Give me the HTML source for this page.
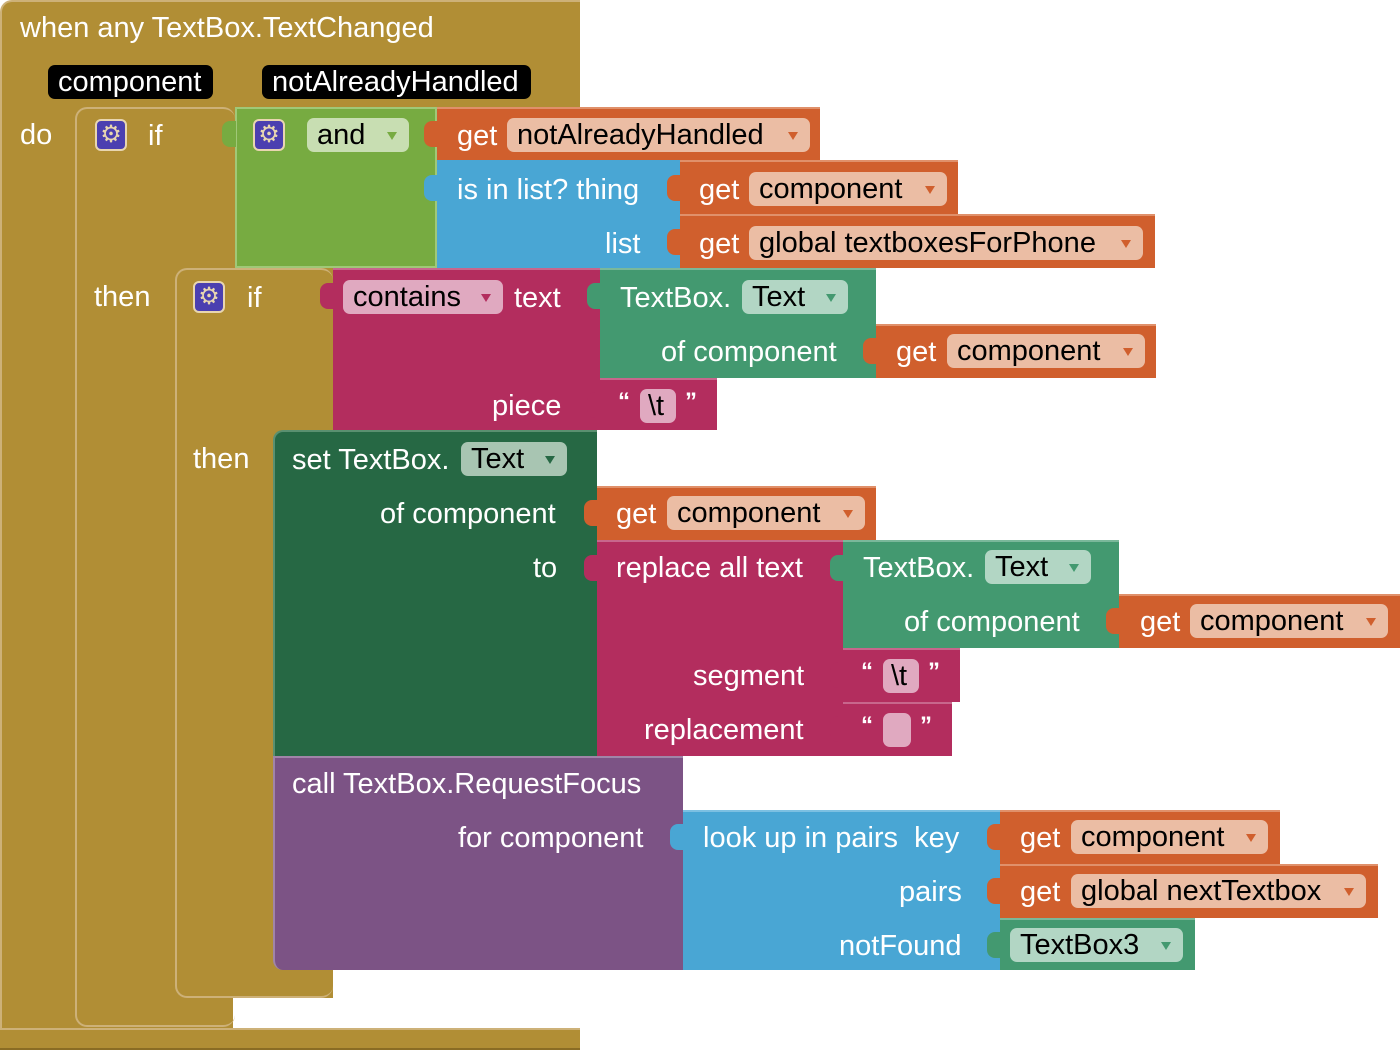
<!DOCTYPE html>
<html><head><style>
body{margin:0;width:1400px;height:1050px;background:#fff;position:relative;overflow:hidden;font-family:"Liberation Sans",sans-serif}
.b{position:absolute;box-sizing:border-box}
.t{position:absolute;color:#fff;font-size:29px;line-height:32px;white-space:nowrap}
.p{position:absolute;height:34px;border-radius:7px;color:#000;font-size:29px;line-height:34px;padding-left:10px;box-sizing:border-box;white-space:nowrap}
.p i{position:absolute;right:12px;top:14px;width:0;height:0;border-left:5px solid transparent;border-right:5px solid transparent;border-top:8px solid}
.g{position:absolute;width:32px;height:32px;background:#4b3fb0;border:2px solid #e8d6b0;border-radius:6px;box-sizing:border-box;color:#e8d6b0;font-size:24px;line-height:28px;text-align:center}
.k{position:absolute;width:14px;height:26px;border-radius:8px 0 0 8px}
.q{position:absolute;color:#fff;font-size:24px;line-height:24px;font-weight:bold}
</style></head><body>
<div class="b" style="left:0;top:0;width:580px;height:1050px;background:#b18e35;border-radius:12px 0 0 12px;border-top:2px solid #cdb178;border-left:2px solid #cdb178"></div>
<div class="b" style="left:333px;top:970px;width:247px;height:58px;background:#fff"></div>
<div class="b" style="left:233px;top:998px;width:100px;height:30px;background:#fff"></div>
<div class="b" style="left:0;top:1028px;width:580px;height:22px;background:#b18e35;border-top:2px solid #cdb178;border-bottom:2px solid #8a6c24"></div>
<div class="b" style="left:75px;top:107px;width:160px;height:920px;border:2px solid #cdb178;border-radius:12px;border-right:none"></div>
<div class="b" style="left:175px;top:268px;width:158px;height:730px;border:2px solid #cdb178;border-radius:12px;border-right:none"></div>

<div class="b" style="left:235px;top:107px;width:202px;height:161px;background:#77ab41;border:2px solid #a0c878"></div>
<div class="k" style="left:222px;top:121px;background:#77ab41"></div>
<div class="b" style="left:437px;top:107px;width:383px;height:53px;background:#d05f2d;border-top:2px solid #e0906a"></div>
<div class="k" style="left:424px;top:121px;background:#d05f2d"></div>
<div class="b" style="left:437px;top:160px;width:243px;height:108px;background:#49a6d4"></div>
<div class="k" style="left:424px;top:175px;background:#49a6d4"></div>
<div class="b" style="left:680px;top:160px;width:278px;height:54px;background:#d05f2d;border-top:2px solid #e0906a"></div>
<div class="k" style="left:667px;top:175px;background:#d05f2d"></div>
<div class="b" style="left:680px;top:214px;width:475px;height:54px;background:#d05f2d;border-top:2px solid #e0906a"></div>
<div class="k" style="left:667px;top:229px;background:#d05f2d"></div>

<div class="b" style="left:333px;top:268px;width:267px;height:162px;background:#b32d5e;border-top:2px solid #c8668c"></div>
<div class="k" style="left:320px;top:283px;background:#b32d5e"></div>
<div class="b" style="left:600px;top:268px;width:276px;height:110px;background:#439970;border-top:2px solid #7ab89a"></div>
<div class="k" style="left:587px;top:283px;background:#439970"></div>
<div class="b" style="left:876px;top:324px;width:280px;height:54px;background:#d05f2d;border-top:2px solid #e0906a"></div>
<div class="k" style="left:863px;top:338px;background:#d05f2d"></div>
<div class="b" style="left:600px;top:378px;width:117px;height:52px;background:#b32d5e;border-top:2px solid #c8668c"></div>
<div class="k" style="left:587px;top:392px;background:#b32d5e"></div>

<div class="b" style="left:273px;top:430px;width:324px;height:326px;background:#266844;border-radius:10px 0 0 0;border-top:2px solid #5a9070;border-left:2px solid #5a9070"></div>
<div class="b" style="left:597px;top:486px;width:279px;height:54px;background:#d05f2d;border-top:2px solid #e0906a"></div>
<div class="k" style="left:584px;top:500px;background:#d05f2d"></div>
<div class="b" style="left:597px;top:540px;width:246px;height:216px;background:#b32d5e;border-top:2px solid #c8668c"></div>
<div class="k" style="left:584px;top:555px;background:#b32d5e"></div>
<div class="b" style="left:843px;top:540px;width:276px;height:108px;background:#439970;border-top:2px solid #7ab89a"></div>
<div class="k" style="left:830px;top:555px;background:#439970"></div>
<div class="b" style="left:1119px;top:594px;width:281px;height:54px;background:#d05f2d;border-top:2px solid #e0906a"></div>
<div class="k" style="left:1106px;top:608px;background:#d05f2d"></div>
<div class="b" style="left:843px;top:648px;width:117px;height:54px;background:#b32d5e;border-top:2px solid #c8668c"></div>
<div class="k" style="left:830px;top:662px;background:#b32d5e"></div>
<div class="b" style="left:843px;top:702px;width:109px;height:54px;background:#b32d5e;border-top:2px solid #c8668c"></div>
<div class="k" style="left:830px;top:716px;background:#b32d5e"></div>

<div class="b" style="left:273px;top:756px;width:410px;height:214px;background:#7c5385;border-radius:0 0 0 10px;border-top:2px solid #a085a8;border-left:2px solid #a085a8"></div>
<div class="b" style="left:683px;top:810px;width:317px;height:160px;background:#49a6d4;border-top:2px solid #7cc0e2"></div>
<div class="k" style="left:670px;top:824px;background:#49a6d4"></div>
<div class="b" style="left:1000px;top:810px;width:280px;height:54px;background:#d05f2d;border-top:2px solid #e0906a"></div>
<div class="k" style="left:987px;top:824px;background:#d05f2d"></div>
<div class="b" style="left:1000px;top:864px;width:378px;height:54px;background:#d05f2d;border-top:2px solid #e0906a"></div>
<div class="k" style="left:987px;top:878px;background:#d05f2d"></div>
<div class="b" style="left:1000px;top:918px;width:195px;height:52px;background:#439970;border-top:2px solid #7ab89a"></div>
<div class="k" style="left:987px;top:932px;background:#439970"></div>

<div class="t" style="left:20px;top:12px">when any TextBox.TextChanged</div>
<div class="p" style="left:48px;top:65px;width:165px;background:#000;color:#fff">component</div>
<div class="p" style="left:262px;top:65px;width:269px;background:#000;color:#fff">notAlreadyHandled</div>
<div class="t" style="left:20px;top:119px">do</div>
<div class="g" style="left:95px;top:119px">⚙</div>
<div class="t" style="left:148px;top:120px">if</div>
<div class="g" style="left:253px;top:119px">⚙</div>
<div class="p" style="left:307px;top:118px;width:102px;background:#c8deb2">and<i style="color:#77ab41"></i></div>
<div class="t" style="left:457px;top:120px">get</div>
<div class="p" style="left:507px;top:118px;width:303px;background:#ebbda4">notAlreadyHandled<i style="color:#d05f2d"></i></div>
<div class="t" style="left:457px;top:174px">is in list? thing</div>
<div class="t" style="left:699px;top:174px">get</div>
<div class="p" style="left:749px;top:172px;width:198px;background:#ebbda4">component<i style="color:#d05f2d"></i></div>
<div class="t" style="left:605px;top:228px">list</div>
<div class="t" style="left:699px;top:228px">get</div>
<div class="p" style="left:749px;top:226px;width:394px;background:#ebbda4">global textboxesForPhone<i style="color:#d05f2d"></i></div>
<div class="t" style="left:94px;top:281px">then</div>
<div class="g" style="left:193px;top:281px">⚙</div>
<div class="t" style="left:247px;top:282px">if</div>
<div class="p" style="left:343px;top:280px;width:160px;background:#e0a9c0">contains<i style="color:#b32d5e"></i></div>
<div class="t" style="left:514px;top:282px">text</div>
<div class="t" style="left:620px;top:282px">TextBox.</div>
<div class="p" style="left:742px;top:280px;width:106px;background:#b2d6c4">Text<i style="color:#439970"></i></div>
<div class="t" style="left:661px;top:336px">of component</div>
<div class="t" style="left:896px;top:336px">get</div>
<div class="p" style="left:947px;top:334px;width:198px;background:#ebbda4">component<i style="color:#d05f2d"></i></div>
<div class="t" style="left:492px;top:390px">piece</div>
<div class="q" style="left:618px;top:390px">“</div>
<div class="p" style="left:640px;top:389px;width:36px;background:#e0a9c0;padding-left:8px">\t</div>
<div class="q" style="left:685px;top:390px">”</div>
<div class="t" style="left:193px;top:443px">then</div>
<div class="t" style="left:292px;top:444px">set TextBox.</div>
<div class="p" style="left:461px;top:442px;width:106px;background:#a8c5b2">Text<i style="color:#266844"></i></div>
<div class="t" style="left:380px;top:498px">of component</div>
<div class="t" style="left:616px;top:498px">get</div>
<div class="p" style="left:667px;top:496px;width:198px;background:#ebbda4">component<i style="color:#d05f2d"></i></div>
<div class="t" style="left:533px;top:552px">to</div>
<div class="t" style="left:616px;top:552px">replace all text</div>
<div class="t" style="left:863px;top:552px">TextBox.</div>
<div class="p" style="left:985px;top:550px;width:106px;background:#b2d6c4">Text<i style="color:#439970"></i></div>
<div class="t" style="left:904px;top:606px">of component</div>
<div class="t" style="left:1140px;top:606px">get</div>
<div class="p" style="left:1190px;top:604px;width:198px;background:#ebbda4">component<i style="color:#d05f2d"></i></div>
<div class="t" style="left:693px;top:660px">segment</div>
<div class="q" style="left:861px;top:660px">“</div>
<div class="p" style="left:883px;top:659px;width:36px;background:#e0a9c0;padding-left:8px">\t</div>
<div class="q" style="left:928px;top:660px">”</div>
<div class="t" style="left:644px;top:714px">replacement</div>
<div class="q" style="left:861px;top:714px">“</div>
<div class="p" style="left:883px;top:713px;width:28px;background:#e0a9c0"></div>
<div class="q" style="left:920px;top:714px">”</div>
<div class="t" style="left:292px;top:768px">call TextBox.RequestFocus</div>
<div class="t" style="left:458px;top:822px">for component</div>
<div class="t" style="left:703px;top:822px">look up in pairs&nbsp; key</div>
<div class="t" style="left:1020px;top:822px">get</div>
<div class="p" style="left:1071px;top:820px;width:197px;background:#ebbda4">component<i style="color:#d05f2d"></i></div>
<div class="t" style="left:899px;top:876px">pairs</div>
<div class="t" style="left:1020px;top:876px">get</div>
<div class="p" style="left:1071px;top:874px;width:295px;background:#ebbda4">global nextTextbox<i style="color:#d05f2d"></i></div>
<div class="t" style="left:839px;top:930px">notFound</div>
<div class="p" style="left:1010px;top:928px;width:173px;background:#b2d6c4">TextBox3<i style="color:#439970"></i></div>
</body></html>
